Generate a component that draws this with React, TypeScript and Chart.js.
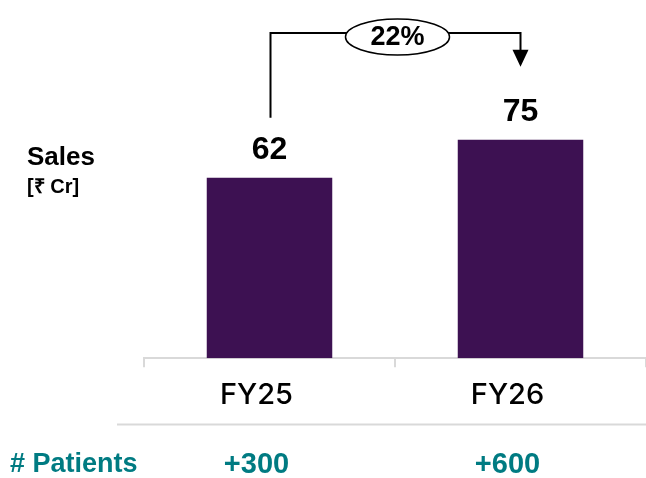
import { useEffect, useRef } from "react";
import { Chart, registerables } from "chart.js";
Chart.register(...registerables);

const categories = ["FY25", "FY26"];
const salesValues = [62, 75];
const patientLabels = ["+300", "+600"];
const growthLabel = "22%";
const yTitleMain = "Sales";
const yTitleUnit = "[₹ Cr]";
const patientsTitle = "# Patients";

const PURPLE = "#3d1152";
const TEAL = "#007b82";
const GRAY = "#d9d9d9";
const FONT = "'Liberation Sans', Arial, sans-serif";
const LABEL_OFFSET = -13;

const overlayPlugin = {
  id: "overlay",
  afterDraw(chart: any) {
    const ctx = chart.ctx as CanvasRenderingContext2D;
    const meta = chart.getDatasetMeta(0);
    const xScale = chart.scales.x;
    const area = chart.chartArea;
    ctx.save();

    // data labels
    ctx.fillStyle = "#000";
    ctx.font = `bold 32px ${FONT}`;
    ctx.textAlign = "center";
    ctx.textBaseline = "alphabetic";
    meta.data.forEach((bar: any, i: number) => {
      ctx.fillText(String(salesValues[i]), bar.x, bar.y - 19);
    });

    // y title
    ctx.textAlign = "left";
    ctx.font = `bold 26px ${FONT}`;
    ctx.fillText(yTitleMain, 27, 165);
    ctx.font = `bold 20px ${FONT}`;
    ctx.fillText(yTitleUnit, 27, 193);

    // separator line
    ctx.strokeStyle = GRAY;
    ctx.lineWidth = 2;
    ctx.beginPath();
    ctx.moveTo(117, 424.5);
    ctx.lineTo(chart.width, 424.5);
    ctx.stroke();

    // patients row
    ctx.fillStyle = TEAL;
    ctx.font = `bold 27px ${FONT}`;
    ctx.textAlign = "left";
    ctx.fillText(patientsTitle, 10, 472);
    ctx.textAlign = "center";
    ctx.font = `bold 29px ${FONT}`;
    patientLabels.forEach((lab, i) => {
      ctx.fillText(lab, xScale.getPixelForValue(i) + LABEL_OFFSET, 473);
    });

    // growth arrow
    const b0 = meta.data[0];
    const b1 = meta.data[1];
    const x0 = Math.round(b0.x) + 0.5;
    const x1 = Math.round(b1.x) - 0.5;
    const yTop = area.top - 34;
    const yStart = b0.y - 60;
    const tip = b1.y - 73;
    ctx.strokeStyle = "#000";
    ctx.lineWidth = 2;
    ctx.beginPath();
    ctx.moveTo(x0, yStart);
    ctx.lineTo(x0, yTop);
    ctx.lineTo(x1, yTop);
    ctx.lineTo(x1, tip - 16);
    ctx.stroke();
    ctx.fillStyle = "#000";
    ctx.beginPath();
    ctx.moveTo(x1 - 8, tip - 17);
    ctx.lineTo(x1 + 8, tip - 17);
    ctx.lineTo(x1, tip);
    ctx.closePath();
    ctx.fill();

    const cx = (x0 + x1) / 2 + 2;
    const cy = yTop + 4;
    ctx.beginPath();
    ctx.ellipse(cx, cy, 52, 18, 0, 0, Math.PI * 2);
    ctx.fillStyle = "#fff";
    ctx.fill();
    ctx.lineWidth = 1.5;
    ctx.stroke();
    ctx.fillStyle = "#000";
    ctx.font = `bold 27px ${FONT}`;
    ctx.textAlign = "center";
    ctx.textBaseline = "middle";
    ctx.fillText(growthLabel, cx, cy + 1);

    ctx.restore();
  },
};

export default function App() {
  const ref = useRef<HTMLCanvasElement | null>(null);
  useEffect(() => {
    if (!ref.current) return;
    const chart = new Chart(ref.current, {
      type: "bar",
      data: {
        labels: categories,
        datasets: [
          {
            data: salesValues,
            backgroundColor: PURPLE,
            barPercentage: 0.5,
            categoryPercentage: 1,
          },
        ],
      },
      options: {
        animation: false,
        responsive: true,
        maintainAspectRatio: false,
        layout: { padding: { left: 144, right: 0, top: 67, bottom: 54 } },
        plugins: { legend: { display: false }, tooltip: { enabled: false } },
        scales: {
          x: {
            offset: true,
            border: { display: true, color: GRAY, width: 2 },
            grid: {
              display: true,
              offset: true,
              drawOnChartArea: false,
              drawTicks: true,
              tickLength: 9,
              color: GRAY,
              lineWidth: 2,
            },
            ticks: {
              color: "#000",
              font: { family: "Inter, 'Liberation Sans', sans-serif", size: 29, weight: 500, lineHeight: 1.2 },
              padding: 11,
              labelOffset: LABEL_OFFSET,
              maxRotation: 0,
            },
          },
          y: { display: false, min: 0, max: 100 },
        },
      },
      plugins: [overlayPlugin],
    });
    return () => chart.destroy();
  }, []);
  return (
    <div style={{ position: "fixed", left: 0, top: 0, width: 646, height: 478, background: "#fff" }}>
      <canvas ref={ref} />
    </div>
  );
}
